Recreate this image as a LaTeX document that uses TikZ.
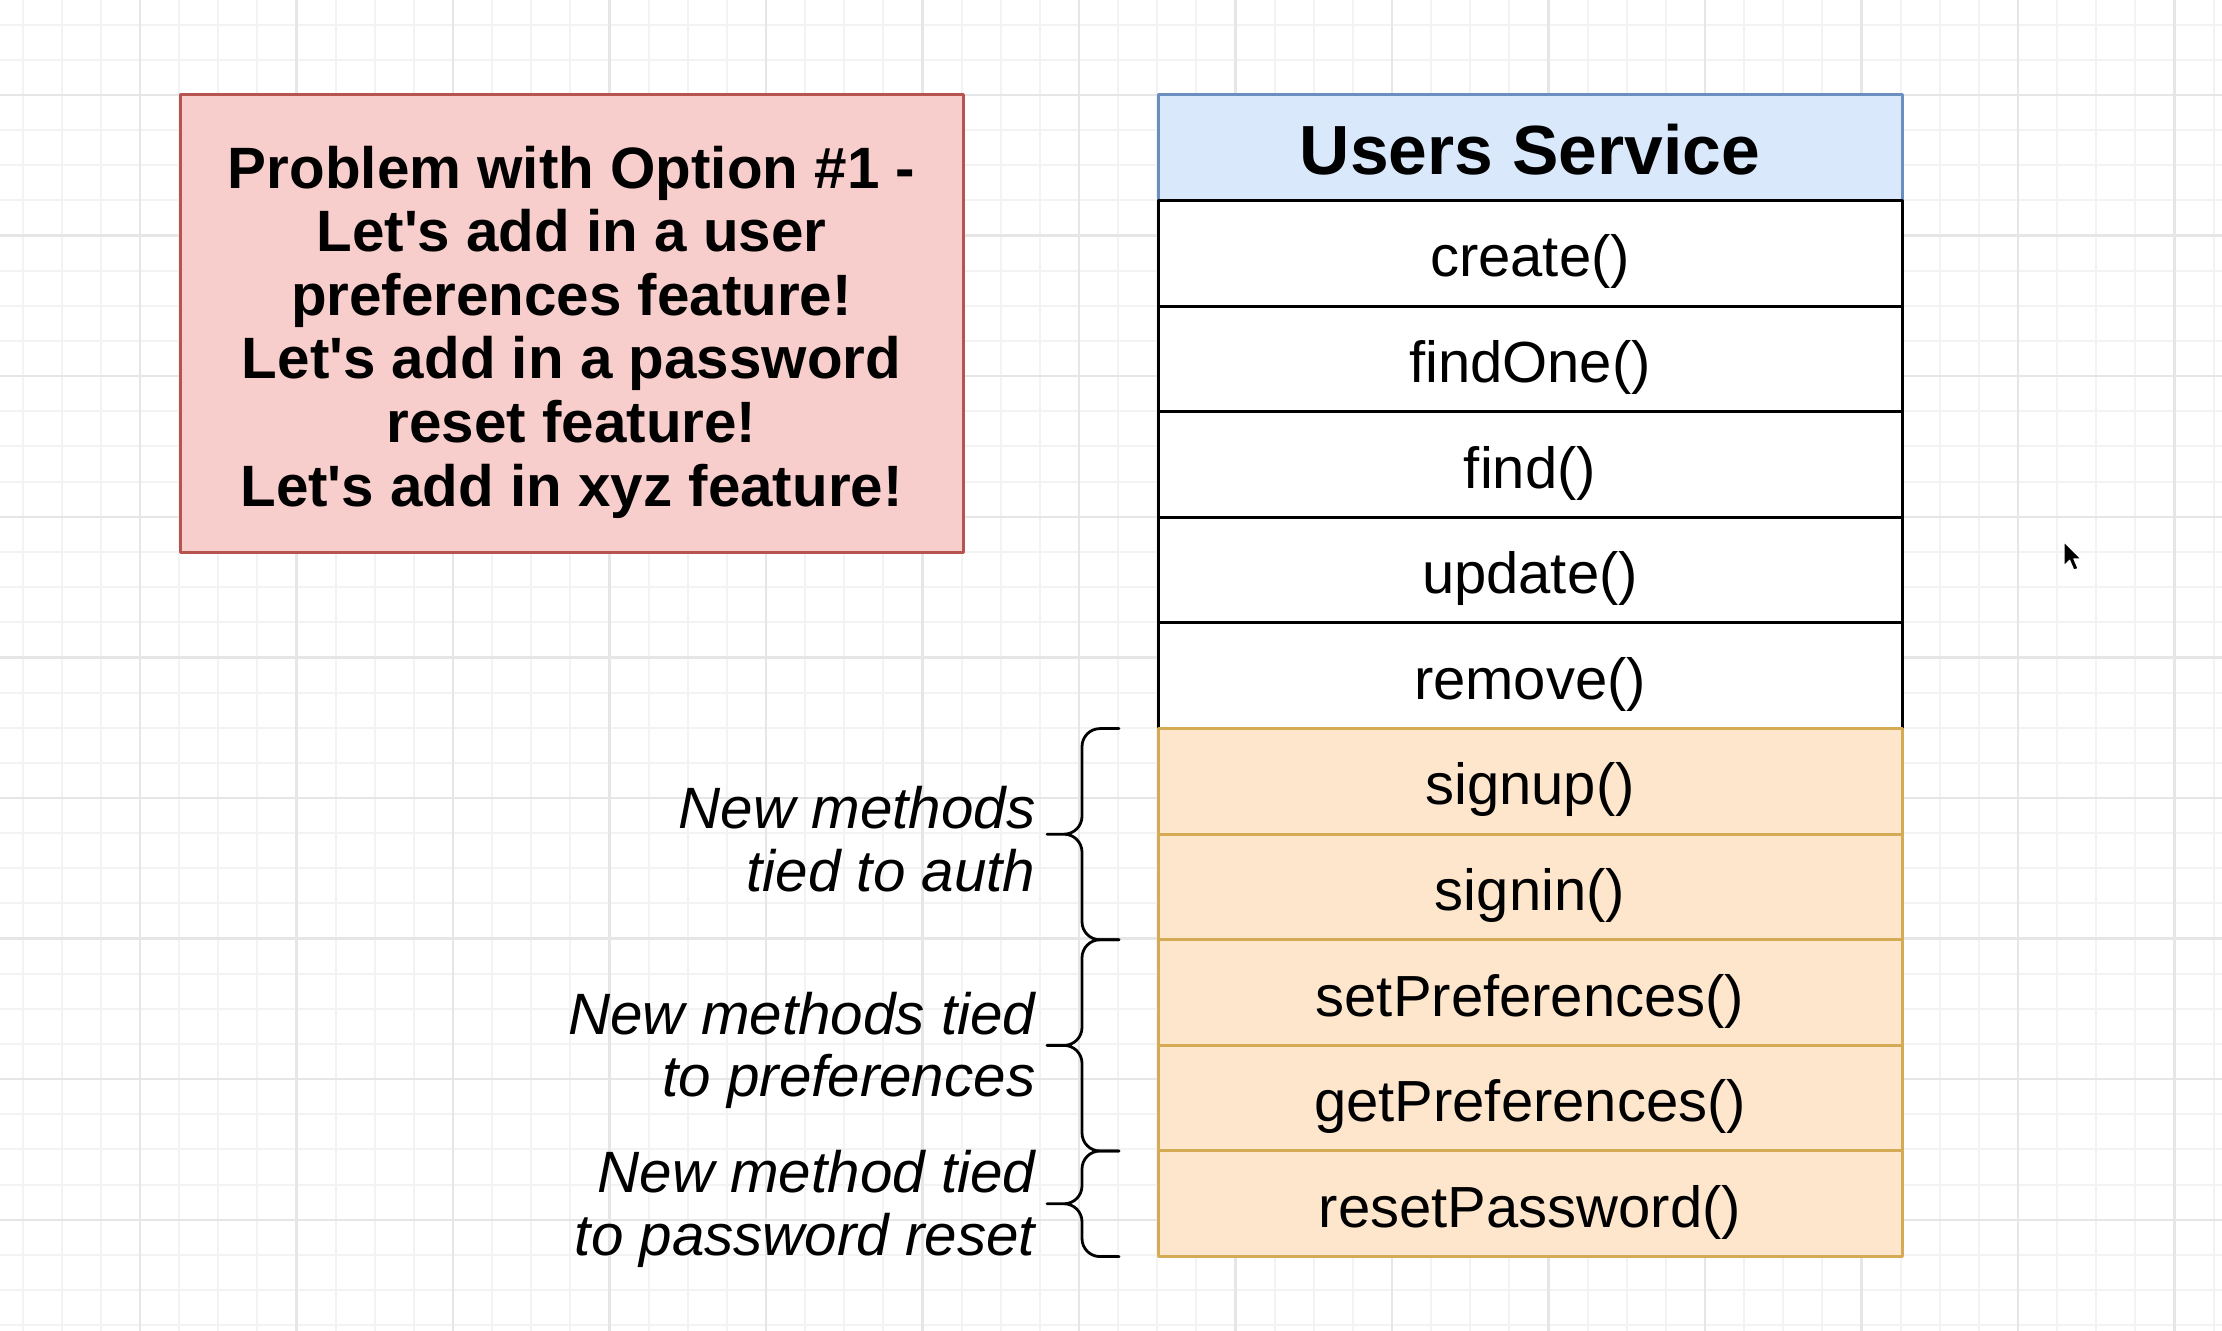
\documentclass[tikz,border=0pt]{standalone}
\usepackage{fontspec}
\setmainfont{Liberation Sans}[Ligatures=TeXOff]
\usetikzlibrary{positioning,calc}

\definecolor{probfill}{HTML}{F8CECC}
\definecolor{probedge}{HTML}{B85450}
\definecolor{headfill}{HTML}{DAE8FC}
\definecolor{headedge}{HTML}{6C8EBF}
\definecolor{newfill}{HTML}{FDE6CC}
\definecolor{newedge}{HTML}{D4AA55}
\definecolor{gridminor}{HTML}{F3F3F3}
\definecolor{gridmajor}{HTML}{E6E6E6}

\tikzset{
  method/.style={draw=black, line width=0.03cm, fill=white, minimum width=7.44cm,
    minimum height=1.056cm, inner sep=0pt, outer sep=0pt, text height=0.5cm,
    text depth=0.03cm, font=\fontsize{16.5}{18}\selectfont},
  newmethod/.style={method, draw=newedge, fill=newfill},
  header/.style={method, draw=headedge, fill=headfill, text height=0.56cm,
    text depth=0.026cm, font=\fontsize{19.8}{22}\selectfont\bfseries},
  problem/.style={draw=probedge, line width=0.03cm, fill=probfill, minimum width=7.83cm,
    minimum height=4.58cm, inner sep=0pt},
  problemtext/.style={align=center, inner sep=0pt,
    font=\fontsize{16.6}{18.1}\selectfont\bfseries},
  bracket/.style={line width=0.028cm, rounded corners=0.18cm},
  note/.style={align=right, inner sep=0pt, font=\fontsize{16.6}{17.8}\selectfont\itshape},
}

% brace left of rows #1..#2, named #3, with label #4
\newcommand{\methodbrace}[4]{%
  \coordinate (#3top) at ([xshift=-0.39cm]#1.north west);
  \coordinate (#3bot) at ([xshift=-0.39cm]#2.south west);
  \coordinate (#3tip) at ($(#3top)!0.5!(#3bot)+(-0.72,0)$);
  \draw[bracket] (#3top) -- ++(-0.37,0) |- (#3tip) (#3tip) -- ++(0.35,0) |- (#3bot);
  \node[note, left=0.11cm of #3tip, yshift=-0.05cm] (#3) {#4};
}

\begin{document}
\begin{tikzpicture}[line cap=round,line join=round]
\useasboundingbox (0,0) rectangle (22.22,13.31);
\fill[white] (0,0) rectangle (22.22,13.31);
%
\begin{scope}
\clip (0,0) rectangle (22.22,13.31);
\begin{scope}[shift={(0.227,0.0575)}]
\draw[gridminor, line width=0.02cm, step={(0.39125,0.3515)}] (-1,-1) grid (23,14);
\end{scope}
\begin{scope}[shift={(1.40,1.112)}]
\draw[gridmajor, line width=0.025cm, step={(1.565,1.406)}] (-2,-2) grid (22,13);
\end{scope}
\end{scope}
%
\node[problem] (problem) at (5.715,10.07) {};
\node[problemtext] (problemtext) at ([yshift=-0.08cm]problem.center) {Problem with Option \#1 -\\
  Let's add in a user\\ preferences feature!\\ Let's add in a password\\
  reset feature!\\ Let's add in xyz feature!};
%
\node[header] (svc) at (15.30,11.832) {Users Service};
\node[method, below=0pt of svc] (create) {create()};
\node[method, below=0pt of create] (findone) {findOne()};
\node[method, below=0pt of findone] (find) {find()};
\node[method, below=0pt of find] (update) {update()};
\node[method, below=0pt of update] (remove) {remove()};
\node[newmethod, below=0pt of remove] (signup) {signup()};
\node[newmethod, below=0pt of signup] (signin) {signin()};
\node[newmethod, below=0pt of signin] (setpref) {setPreferences()};
\node[newmethod, below=0pt of setpref] (getpref) {getPreferences()};
\node[newmethod, below=0pt of getpref] (resetpw) {resetPassword()};
%
\methodbrace{signup}{signin}{auth}{New methods\\tied to auth}
\methodbrace{setpref}{getpref}{prefs}{New methods tied\\to preferences}
\methodbrace{resetpw}{resetpw}{reset}{New method tied\\to password reset}
%
\begin{scope}[shift={(20.64,7.89)},x=0.014cm,y=-0.014cm]
\filldraw[draw=white, fill=black, line width=0.01cm] (0,0) -- (0,17) -- (4,13) -- (7,20)
  -- (10,19) -- (7,12) -- (12,12) -- cycle;
\end{scope}
\end{tikzpicture}
\end{document}
